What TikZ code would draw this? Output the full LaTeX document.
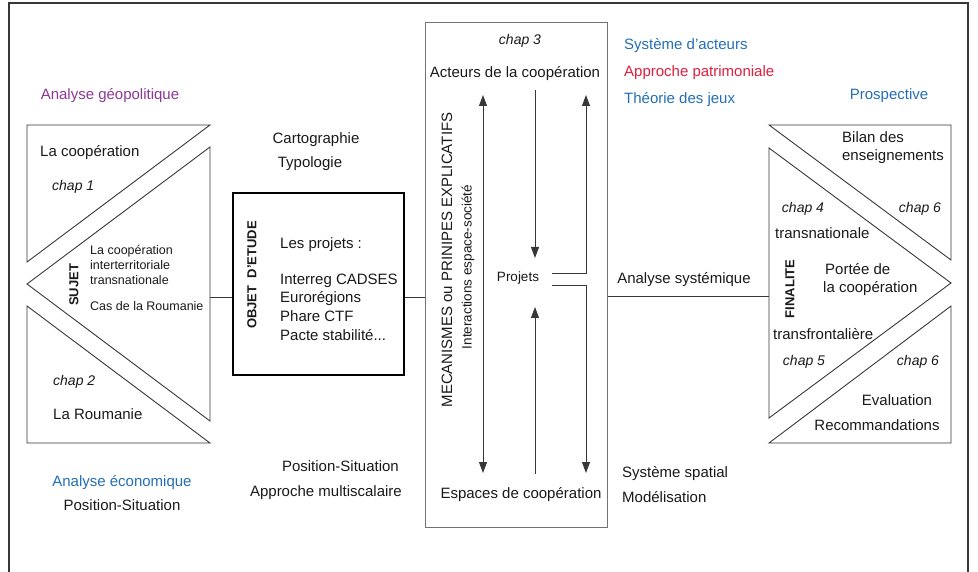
\documentclass[tikz,border=0pt]{standalone}
\usepackage{fontspec}
\setmainfont{Liberation Sans}
\usetikzlibrary{arrows.meta}
\definecolor{purp}{RGB}{140,55,150}
\definecolor{blu}{RGB}{35,110,180}
\definecolor{redd}{RGB}{225,30,60}
\definecolor{lin}{RGB}{55,55,55}
\definecolor{txtc}{RGB}{25,25,25}
\begin{document}
\begin{tikzpicture}[x=1pt,y=-1pt,
  txt/.style={inner sep=0pt, anchor=mid, text=txtc, font=\fontsize{15}{17}\selectfont},
  small/.style={txt, font=\fontsize{12.5}{14}\selectfont},
  chap/.style={txt, font=\fontsize{14}{16}\selectfont\itshape},
  vlab/.style={txt, anchor=center, font=\fontsize{13}{15}\selectfont\bfseries, rotate=90},
  vtxt/.style={txt, anchor=center, rotate=90},
  shp/.style={draw=lin, line width=0.9pt, line join=miter},
  conn/.style={draw=lin, line width=0.9pt},
  arr/.style={draw=lin, line width=0.9pt, -{Triangle[length=11pt,width=8pt]}},
  objbox/.style={draw=black, line width=2.2pt, minimum width=171pt, minimum height=182pt, inner sep=0pt},
  mechbox/.style={draw=black!55, line width=1pt, minimum width=182pt, minimum height=504pt, inner sep=0pt},
]
\useasboundingbox (0,0) rectangle (978,572);
% outer frame
\draw[lin, line width=1.8pt] (9,580) -- (9,3) -- (968,3) -- (968,580);

% ---- left shape ----
\draw[shp] (27,125) -- (210,125) -- (27,262) -- cycle;
\draw[shp] (210,147) -- (27,284) -- (210,421) -- cycle;
\draw[shp] (27,306) -- (210,443) -- (27,443) -- cycle;
\coordinate (lcon) at (210,297);

\node[txt, text=purp] (geo) at (110,97) {Analyse géopolitique};
\node[txt, anchor=mid west] (lacoop) at (40,154) {La coopération};
\node[chap, anchor=mid west] (chap1) at (52,188) {chap 1};
\node[vlab] (sujet) at (74,285) {SUJET};
\node[small, anchor=mid west] (s1) at (90,252) {La coopération};
\node[small, anchor=mid west] (s2) at (90,267) {interterritoriale};
\node[small, anchor=mid west] (s3) at (90,282) {transnationale};
\node[small, anchor=mid west] (s4) at (90,308) {Cas de la Roumanie};
\node[chap, anchor=mid west] (chap2) at (53,383) {chap 2};
\node[txt, anchor=mid west] (roum) at (53,417) {La Roumanie};
\node[txt, text=blu] (eco) at (122,484) {Analyse économique};
\node[txt] (pos1) at (122,508) {Position-Situation};

% ---- objet d'etude ----
\node[objbox] (obj) at (318.5,284) {};
\node[txt] (carto) at (316,141) {Cartographie};
\node[txt] (typo) at (310,165) {Typologie};
\node[vlab] (objl) at (252,275) {OBJET\ \ D'ETUDE};
\node[txt, anchor=mid west] (p0) at (280,246) {Les projets :};
\node[txt, anchor=mid west] (p1) at (280,282) {Interreg CADSES};
\node[txt, anchor=mid west] (p2) at (280,300) {Eurorégions};
\node[txt, anchor=mid west] (p3) at (280,319) {Phare CTF};
\node[txt, anchor=mid west] (p4) at (280,338) {Pacte stabilité...};
\node[txt, anchor=mid east] (pos2) at (399,469) {Position-Situation};
\node[txt, anchor=mid east] (multi) at (402,494) {Approche multiscalaire};

% ---- mechanisms box ----
\node[mechbox] (mech) at (516,275) {};
\node[chap] (chap3) at (520,42) {chap 3};
\node[txt] (acteurs) at (515,75) {Acteurs de la coopération};
\node[txt, font=\fontsize{13.5}{15}\selectfont] (projets) at (518,279) {Projets};
\node[txt] (espaces) at (521,496) {Espaces de coopération};
\node[vtxt] (meca) at (447,260) {MECANISMES ou PRINIPES EXPLICATIFS};
\node[vtxt, font=\fontsize{13.5}{15}\selectfont] (inter) at (468,267) {Interactions espace-société};

\coordinate (la) at (483,95);
\coordinate (lb) at (483,473);
\draw[arr, {Triangle[length=11pt,width=8pt]}-{Triangle[length=11pt,width=8pt]}] (la) -- (lb);
\coordinate (da) at (535,90);
\coordinate (db) at (535,258);
\draw[arr] (da) -- (db);
\coordinate (ua) at (535,474);
\coordinate (ub) at (535,307);
\draw[arr] (ua) -- (ub);
\coordinate (ra) at (552,273);
\coordinate (rt) at (586,95);
\draw[arr] (ra) -| (rt);
\coordinate (rb) at (552,285);
\coordinate (rd) at (586,473);
\draw[arr] (rb) -| (rd);

% ---- right texts ----
\node[txt, anchor=mid west, text=blu] (sa) at (624,47) {Système d'acteurs};
\node[txt, anchor=mid west, text=redd] (ap) at (624,74) {Approche patrimoniale};
\node[txt, anchor=mid west, text=blu] (tj) at (624,101) {Théorie des jeux};
\node[txt] (asys) at (684,281) {Analyse systémique};
\node[txt, anchor=mid west] (ss) at (622,475) {Système spatial};
\node[txt, anchor=mid west] (mod) at (622,500) {Modélisation};

% ---- right shape ----
\draw[shp] (769,125) -- (951,125) -- (951,260) -- cycle;
\draw[shp] (769,148) -- (951,283) -- (769,418) -- cycle;
\draw[shp] (951,306) -- (951,443) -- (769,443) -- cycle;
\coordinate (rcon) at (769,296);

\node[txt, text=blu] (prosp) at (889,97) {Prospective};
\node[txt, anchor=mid west] (bilan) at (842,140) {Bilan des};
\node[txt, anchor=mid east] (ens) at (944,158) {enseignements};
\node[chap] (chap6a) at (920,210) {chap 6};
\node[chap] (chap4) at (803,210) {chap 4};
\node[txt, anchor=mid west] (transn) at (775,236) {transnationale};
\node[vlab] (fin) at (790,289) {FINALITE};
\node[txt, anchor=mid west] (portee) at (825,272) {Portée de};
\node[txt, anchor=mid west] (lacoop2) at (823,290) {la coopération};
\node[txt, anchor=mid west] (transf) at (773,337) {transfrontalière};
\node[chap] (chap5) at (804,363) {chap 5};
\node[chap] (chap6b) at (918,363) {chap 6};
\node[txt] (eval) at (897,403) {Evaluation};
\node[txt] (recom) at (877,428) {Recommandations};

% ---- connectors ----
\draw[conn] (lcon) -- (obj.west |- lcon);
\draw[conn] (obj.east |- lcon) -- (mech.west |- lcon);
\draw[conn] (mech.east |- rcon) -- (rcon);
\end{tikzpicture}
\end{document}
